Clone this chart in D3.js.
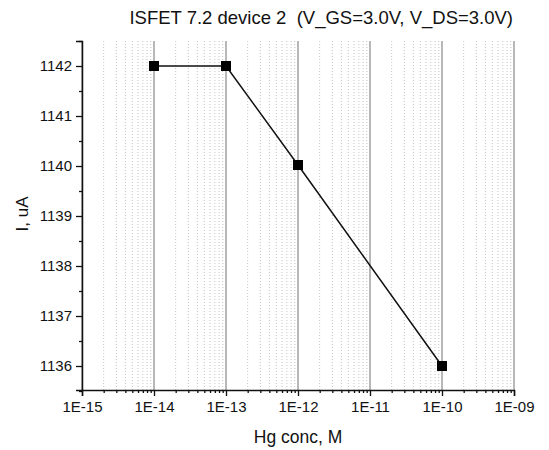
<html>
  <head>
    <meta charset="utf-8">
    <title>ISFET 7.2 device 2</title>
    <style>
    body{
      margin: 0;
      background-color: white;
    }
    text{
      font-family: "Liberation Sans", Arial, sans-serif;
      fill: #111;
    }
    </style>
    <script src="https://d3js.org/d3.v7.min.js"></script>
  </head>
  <body>
    <div id="container"></div>
    <script>
    //size of the whole picture
    const width = 549,
          height = 450;

    //data
    var conc = [1e-14, 1e-13, 1e-12, 1e-10];
    var current = [1142, 1142, 1140.02, 1136];
    var xTicks = [1e-15, 1e-14, 1e-13, 1e-12, 1e-11, 1e-10, 1e-9];
    var yTicks = [1136, 1137, 1138, 1139, 1140, 1141, 1142];
    var yMinorTicks = [1135.5, 1136.5, 1137.5, 1138.5, 1139.5, 1140.5, 1141.5, 1142.5];

    //plot area (not "top", that one belongs to window)
    const plotLeft = 82, plotRight = 514, plotTop = 41, plotBottom = 390;

    var x = d3.scaleLog().domain([1e-15, 1e-9]).range([plotLeft, plotRight]);
    var y = d3.scaleLinear().domain([1135.52, 1142.5]).range([plotBottom, plotTop]);

    //minor decades 2..9 for each decade
    var minor = [];
    for (var k = 0; k < xTicks.length - 1; k++){
      for (var m = 2; m <= 9; m++){
        minor.push(xTicks[k] * m);
      }
    }

    var svg = d3.select("#container")
      .append("svg")
      .attr("width", width)
      .attr("height", height);

    //dotted minor grid
    svg.append("g").selectAll("line")
      .data(minor)
      .enter()
      .append("line")
      .attr("x1", function(d) {return x(d);})
      .attr("x2", function(d) {return x(d);})
      .attr("y1", plotTop)
      .attr("y2", plotBottom)
      .attr("stroke", "#c4c4c4")
      .attr("stroke-width", 1)
      .attr("stroke-dasharray", "1,2");

    //solid major grid
    svg.append("g").selectAll("line")
      .data(xTicks)
      .enter()
      .append("line")
      .attr("x1", function(d) {return x(d);})
      .attr("x2", function(d) {return x(d);})
      .attr("y1", plotTop)
      .attr("y2", plotBottom)
      .attr("stroke", "#a0a0a0")
      .attr("stroke-width", 1.5);

    //x axis, major and minor ticks
    svg.append("g")
      .attr("transform", "translate(0," + plotBottom + ")")
      .call(d3.axisBottom(x).tickValues(xTicks).tickSize(6).tickPadding(5)
        .tickFormat(function(d) {return "1E-" + String(Math.round(-Math.log10(d))).padStart(2, "0");}));
    svg.append("g")
      .attr("transform", "translate(0," + plotBottom + ")")
      .call(d3.axisBottom(x).tickValues(minor).tickSize(3).tickFormat(""))
      .select(".domain").remove();

    //y axis
    svg.append("g")
      .attr("transform", "translate(" + plotLeft + ",0)")
      .call(d3.axisLeft(y).tickValues(yTicks).tickSize(6).tickPadding(4).tickFormat(d3.format("d")));
    svg.append("g")
      .attr("transform", "translate(" + plotLeft + ",0)")
      .call(d3.axisLeft(y).tickValues(yMinorTicks).tickSize(3).tickFormat(""))
      .select(".domain").remove();

    svg.selectAll(".tick line").attr("stroke", "#111").attr("stroke-width", 1.3);
    svg.selectAll(".domain").attr("stroke", "#111").attr("stroke-width", 1.5);
    svg.selectAll(".tick text").attr("font-size", 15).attr("fill", "#111")
      .style("font-family", "'Liberation Sans', Arial, sans-serif");

    //data line and square markers
    var pts = conc.map(function(d, i) {return [d, current[i]];});
    svg.append("path")
      .datum(pts)
      .attr("fill", "none")
      .attr("stroke", "#111")
      .attr("stroke-width", 1.5)
      .attr("d", d3.line().x(function(d) {return x(d[0]);}).y(function(d) {return y(d[1]);}));

    svg.selectAll("rect.pt")
      .data(pts)
      .enter()
      .append("rect")
      .attr("class", "pt")
      .attr("x", function(d) {return x(d[0]) - 5;})
      .attr("y", function(d) {return y(d[1]) - 5;})
      .attr("width", 10)
      .attr("height", 10)
      .attr("fill", "#000");

    //titles
    svg.append("text")
      .attr("x", 513)
      .attr("y", 24)
      .attr("text-anchor", "end")
      .attr("font-size", 18.5)
      .attr("xml:space", "preserve")
      .text("ISFET 7.2 device 2  (V_GS=3.0V, V_DS=3.0V)");

    svg.append("text")
      .attr("x", 298)
      .attr("y", 443)
      .attr("text-anchor", "middle")
      .attr("font-size", 17.5)
      .text("Hg conc, M");

    svg.append("text")
      .attr("transform", "translate(28,214) rotate(-90)")
      .attr("text-anchor", "middle")
      .attr("font-size", 17)
      .text("I, uA");
    </script>
  </body>
</html>
